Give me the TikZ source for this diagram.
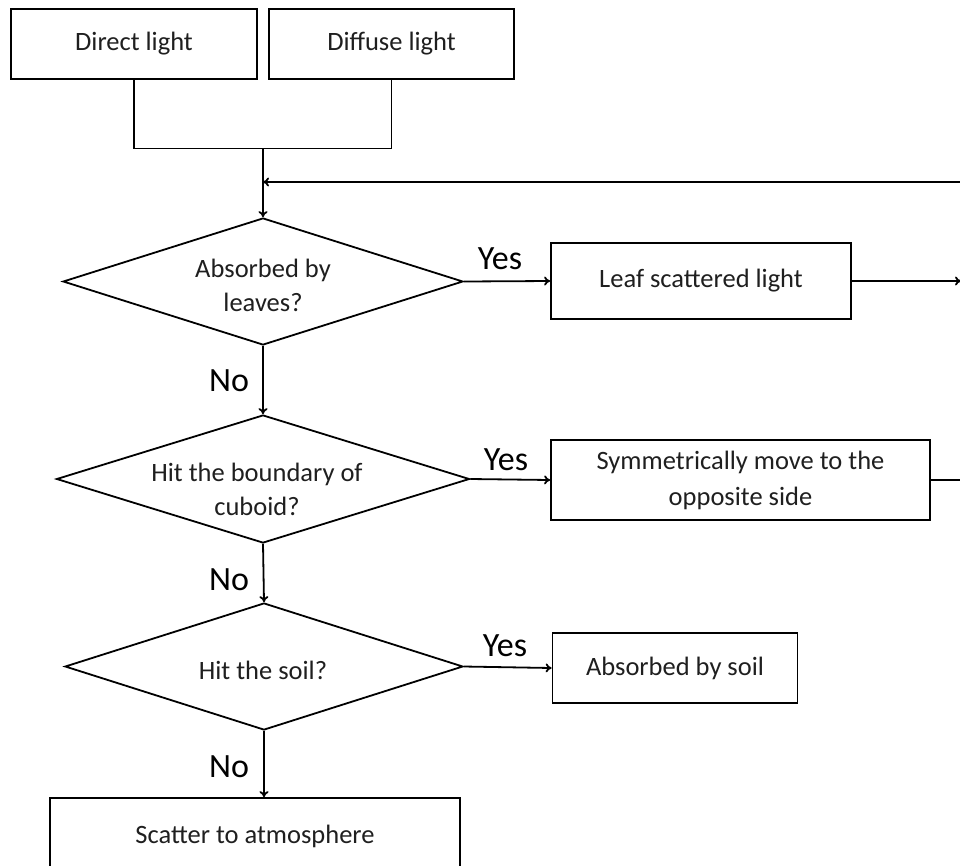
\documentclass[tikz,border=0pt]{standalone}
\usepackage{fontspec}
\setmainfont{Carlito}
\usetikzlibrary{shapes.geometric,arrows.meta}
\begin{document}
\begin{tikzpicture}[x=1pt,y=-1pt,
  line width=1.8pt,
  box/.style={draw, rectangle, inner sep=0pt, align=center, font=\fontsize{26.5}{36}\selectfont, text=black!88},
  dia/.style={draw, diamond, inner sep=0pt},
  txt/.style={inner sep=0pt, align=center, font=\fontsize{26.5}{34}\selectfont, text=black!88},
  lbl/.style={inner sep=0pt, font=\fontsize{34}{38}\selectfont},
  arr/.style={-{To[length=6pt,width=9pt]}}
]
\useasboundingbox (0,0) rectangle (960,865);
\fill[white] (0,0) rectangle (960,865);

% top boxes
\node[box, minimum width=246pt, minimum height=70pt] (direct) at (134,44) {Direct light};
\node[box, minimum width=245pt, minimum height=70pt] (diffuse) at (391.5,44) {Diffuse light};

% diamonds
\node[dia, minimum width=400pt, minimum height=127pt] (d1) at (263,281.5) {};
\node[txt] (t1) at (263,285) {Absorbed by\\leaves?};
\node[dia, minimum width=413pt, minimum height=128pt] (d2) at (263,479) {};
\node[txt] (t2) at (257,489) {Hit the boundary of\\cuboid?};
\node[dia, minimum width=398pt, minimum height=127pt] (d3) at (264,666.5) {};
\node[txt] (t3) at (263,670) {Hit the soil?};

% right boxes
\node[box, minimum width=300pt, minimum height=76pt] (leaf) at (701,281) {Leaf scattered light};
\node[box, minimum width=379pt, minimum height=80pt] (sym) at (740.5,480) {Symmetrically move to the\\opposite side};
\node[box, minimum width=245pt, minimum height=70pt] (soil) at (675,668) {Absorbed by soil};

% bottom box
\node[box, minimum width=410pt, minimum height=76pt] (scatter) at (255,836) {Scatter to atmosphere};

% labels
\node[lbl] (y1) at (500,259) {Yes};
\node[lbl] (y2) at (506,460) {Yes};
\node[lbl] (y3) at (505,646) {Yes};
\node[lbl] (n1) at (229,381) {No};
\node[lbl] (n2) at (229,580) {No};
\node[lbl] (n3) at (229,767) {No};

% coordinates
\coordinate (j) at (263,148.5);
\coordinate (fb) at (960,182);
\coordinate (fbend) at (263,182);
\coordinate (lr) at (961,281);
\coordinate (sr) at (960,480);

% connectors
\draw (direct.south) |- (j) -| (diffuse.south);
\draw[arr] (j) -- (d1.north);
\draw[arr] (fb) -- (fbend);
\draw[arr] (d1.south) -- (d2.north);
\draw[arr] (d2.south) -- (d3.north);
\draw[arr] (d3.south) -- (d3.south |- scatter.north);
\draw[arr] (d1.east) -- (leaf.west);
\draw[arr] (d2.east) -- (sym.west);
\draw[arr] (d3.east) -- (soil.west);
\draw[arr] (leaf.east) -- (lr);
\draw (sym.east) -- (sr);
\end{tikzpicture}
\end{document}
